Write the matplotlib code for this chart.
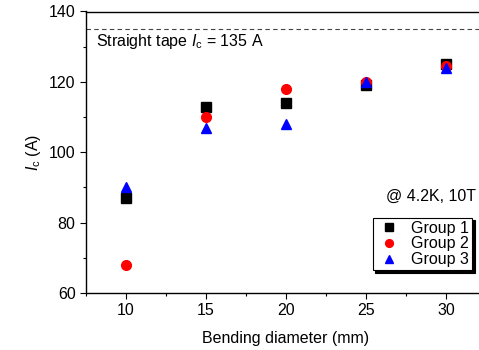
import matplotlib
matplotlib.use('Agg')
from matplotlib import pyplot as plt
from matplotlib.ticker import MultipleLocator

plt.rcParams['font.family'] = 'Liberation Sans'
plt.rcParams['mathtext.fontset'] = 'custom'
plt.rcParams['mathtext.rm'] = 'Liberation Sans'
plt.rcParams['mathtext.it'] = 'Liberation Sans:italic'
plt.rcParams['font.size'] = 11.5

diameter = [10, 15, 20, 25, 30]
group1 = [87, 113, 114, 119, 125]
group2 = [68, 110, 118, 120, 124.5]
group3 = [90, 107, 108, 120, 124]
straight_ic = 135

fig = plt.figure(figsize=(4.79, 3.5), dpi=100)
ax = fig.add_axes([86/479, 1 - 293/350, (486 - 86)/479, (293 - 11.5)/350])

ax.plot(diameter, group1, 's', color='black', ms=6.5, label='Group 1', zorder=3)
ax.plot(diameter, group2, 'o', color='red', ms=7, label='Group 2', zorder=3)
ax.plot(diameter, group3, '^', color='blue', ms=7.5, label='Group 3', zorder=3)
ax.axhline(straight_ic, color='#444444', ls=(0, (4, 3)), lw=0.8)

ax.set_xlim(7.5, 32.5)
ax.set_ylim(60, 140)
ax.xaxis.set_major_locator(MultipleLocator(5))
ax.xaxis.set_minor_locator(MultipleLocator(2.5))
ax.yaxis.set_major_locator(MultipleLocator(20))
ax.yaxis.set_minor_locator(MultipleLocator(10))
ax.tick_params(which='major', direction='out', length=4, width=0.8, labelsize=11.5)
ax.tick_params(which='minor', direction='out', length=2, width=0.8)
for s in ax.spines.values():
    s.set_linewidth(1)

ax.set_xlabel('Bending diameter (mm)', fontsize=11.5, labelpad=9)
ax.set_ylabel(r'$I_\mathrm{c}$ (A)', fontsize=11.5, labelpad=4)

ax.text(8.1, 131.5, r'Straight tape $I_\mathrm{c}$ = 135 A', fontsize=11.5, va='center')
ax.text(31.9, 87.5, '@ 4.2K, 10T', fontsize=11.5, ha='right', va='center')

leg = ax.legend(loc='upper right', bbox_to_anchor=((472 - 86)/400, (293 - 217.5)/281.5),
                frameon=True, fancybox=False, shadow={'color': 'black', 'alpha': 1},
                edgecolor='black', fontsize=11.5, handletextpad=0.6, borderpad=0.2,
                labelspacing=0.05, handlelength=1.6, borderaxespad=0, markerscale=0.8)
leg.get_frame().set_linewidth(0.8)

fig.savefig('out.png', dpi=100)
